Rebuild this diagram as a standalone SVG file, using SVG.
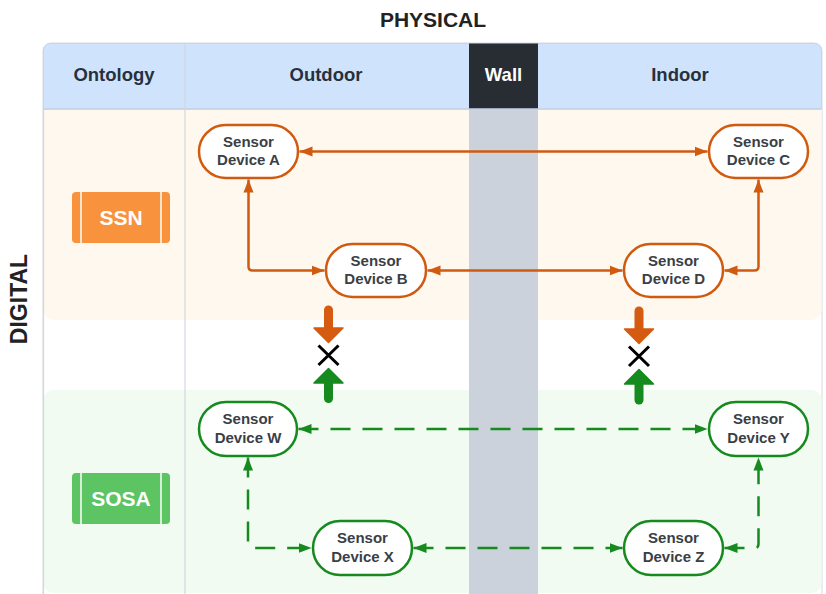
<svg xmlns="http://www.w3.org/2000/svg" width="826" height="594" viewBox="0 0 826 594">
<style>
.hdr{font-family:"Liberation Sans",Arial,sans-serif;font-weight:bold;font-size:18.5px;fill:#27303d;text-anchor:middle}
.ttl{font-family:"Liberation Sans",Arial,sans-serif;font-weight:bold;font-size:21px;fill:#222;text-anchor:middle}
.nt{font-family:"Liberation Sans",Arial,sans-serif;font-weight:bold;font-size:15px;fill:#3a3f47;text-anchor:middle}
.onto{font-family:"Liberation Sans",Arial,sans-serif;font-weight:bold;font-size:21px;fill:#fff;text-anchor:middle}
.on{fill:#fff;stroke:#d05a10;stroke-width:2.5}
.gn{fill:#fff;stroke:#168a1e;stroke-width:2.5}
.oc{fill:none;stroke:#d05a10;stroke-width:2.5;marker-start:url(#ao);marker-end:url(#ao)}
.gc{fill:none;stroke:#168a1e;stroke-width:2.5;stroke-dasharray:20 12;marker-start:url(#ag);marker-end:url(#ag)}
</style>
<defs>
<marker id="ao" markerUnits="userSpaceOnUse" markerWidth="14" markerHeight="12" refX="13" refY="5" orient="auto-start-reverse" viewBox="0 0 14 10">
<path d="M0,0 L13,5 L0,10 z" fill="#d05a10"/>
</marker>
<marker id="ag" markerUnits="userSpaceOnUse" markerWidth="14" markerHeight="12" refX="13" refY="5" orient="auto-start-reverse" viewBox="0 0 14 10">
<path d="M0,0 L13,5 L0,10 z" fill="#168a1e"/>
</marker>
</defs>
<rect width="826" height="594" fill="#fff"/>
<g id="table">
<rect x="43" y="43" width="779" height="560" rx="8" fill="#fff" stroke="#d5dae1" stroke-width="1"/>
<rect x="43.5" y="109" width="778" height="211" rx="10" fill="#fef8ee"/>
<rect x="43.5" y="109" width="778" height="20" fill="#fef8ee"/>
<rect x="43.5" y="390" width="778" height="203" rx="10" fill="#f1fbf1"/>
<rect x="469" y="109" width="69" height="485" fill="#cbd2db"/>
<path d="M43.5,109 V51 Q43.5,43.5 51,43.5 H814 Q821.5,43.5 821.5,51 V109 Z" fill="#cfe4fc" stroke="#c8d6e8" stroke-width="1"/>
<rect x="469" y="43.5" width="69" height="65.5" fill="#282c33"/>
<line x1="43.5" y1="109" x2="821.5" y2="109" stroke="#c3d3e6" stroke-width="1.5"/>
<line x1="185" y1="43.5" x2="185" y2="594" stroke="#d3d8df" stroke-width="1.2"/>
<line x1="43.5" y1="109" x2="43.5" y2="594" stroke="#d3d8df" stroke-width="1.2"/>
<text class="hdr" x="114" y="81">Ontology</text>
<text class="hdr" x="326" y="81">Outdoor</text>
<text class="hdr" x="503.5" y="81" style="fill:#fff">Wall</text>
<text class="hdr" x="680" y="81">Indoor</text>
</g>
<g id="titles">
<text class="ttl" x="433" y="27">PHYSICAL</text>
<text class="ttl" x="0" y="0" transform="translate(27,299) rotate(-90)" style="font-size:23px">DIGITAL</text>
</g>
<g id="ssn">
<rect x="72" y="192" width="98" height="51" rx="4" fill="#f8923c"/>
<line x1="81" y1="192" x2="81" y2="243" stroke="#fff" stroke-width="1.5"/>
<line x1="161" y1="192" x2="161" y2="243" stroke="#fff" stroke-width="1.5"/>
<text class="onto" x="121" y="225">SSN</text>
</g>
<g id="sosa">
<rect x="72" y="473" width="98" height="51" rx="4" fill="#5dc463"/>
<line x1="81" y1="473" x2="81" y2="524" stroke="#fff" stroke-width="1.5"/>
<line x1="161" y1="473" x2="161" y2="524" stroke="#fff" stroke-width="1.5"/>
<text class="onto" x="121" y="506">SOSA</text>
</g>
<g id="connectors">
<path class="oc" d="M299.5,151.5 H707.5"/>
<path class="oc" d="M248.5,179.5 V266.5 Q248.5,270.5 252.5,270.5 H324.5"/>
<path class="oc" d="M427.5,270.5 H622.5"/>
<path class="oc" d="M724.5,270.5 H754.5 Q758.5,270.5 758.5,266.5 V179.5"/>
<path class="gc" d="M298.5,429 H707.5"/>
<path class="gc" d="M248,457.5 V544 Q248,548 252,548 H311.5"/>
<path class="gc" d="M413.5,548 H622.5"/>
<path class="gc" d="M724.5,548 H754.5 Q758.5,548 758.5,544 V457.5"/>
</g>
<g id="blocked-left">
<line x1="328.5" y1="310" x2="328.5" y2="330" stroke="#d45b10" stroke-width="9" stroke-linecap="round"/>
<polygon points="314,328 343,328 328.5,342.5" fill="#d45b10" stroke="#d45b10" stroke-width="1.5" stroke-linejoin="round"/>
<path d="M318.5,345.5 L338.5,365 M338.5,345.5 L318.5,365" stroke="#000" stroke-width="3"/>
<polygon points="314,383 343,383 328.5,368.5" fill="#168a1e" stroke="#168a1e" stroke-width="1.5" stroke-linejoin="round"/>
<line x1="328.5" y1="381" x2="328.5" y2="398.5" stroke="#168a1e" stroke-width="9" stroke-linecap="round"/>
</g>
<g id="blocked-right">
<line x1="639" y1="311" x2="639" y2="331" stroke="#d45b10" stroke-width="9" stroke-linecap="round"/>
<polygon points="624.5,329 653.5,329 639,343.5" fill="#d45b10" stroke="#d45b10" stroke-width="1.5" stroke-linejoin="round"/>
<path d="M629,346.5 L649,366 M649,346.5 L629,366" stroke="#000" stroke-width="3"/>
<polygon points="624.5,384 653.5,384 639,369.5" fill="#168a1e" stroke="#168a1e" stroke-width="1.5" stroke-linejoin="round"/>
<line x1="639" y1="382" x2="639" y2="400" stroke="#168a1e" stroke-width="9" stroke-linecap="round"/>
</g>
<g id="nodeA"><rect class="on" x="199" y="125" width="99" height="53" rx="26.5"/><text class="nt" x="248.5" y="146.5">Sensor</text><text class="nt" x="248.5" y="165">Device A</text></g>
<g id="nodeC"><rect class="on" x="709" y="125" width="99" height="53" rx="26.5"/><text class="nt" x="758.5" y="146.5">Sensor</text><text class="nt" x="758.5" y="165">Device C</text></g>
<g id="nodeB"><rect class="on" x="326" y="244" width="100" height="53" rx="26.5"/><text class="nt" x="376" y="265.5">Sensor</text><text class="nt" x="376" y="284">Device B</text></g>
<g id="nodeD"><rect class="on" x="624" y="244" width="99" height="53" rx="26.5"/><text class="nt" x="673.5" y="265.5">Sensor</text><text class="nt" x="673.5" y="284">Device D</text></g>
<g id="nodeW"><rect class="gn" x="199" y="402" width="98" height="54" rx="27"/><text class="nt" x="248" y="424">Sensor</text><text class="nt" x="248" y="442.5">Device W</text></g>
<g id="nodeY"><rect class="gn" x="709" y="402" width="99" height="54" rx="27"/><text class="nt" x="758.5" y="424">Sensor</text><text class="nt" x="758.5" y="442.5">Device Y</text></g>
<g id="nodeX"><rect class="gn" x="313" y="521" width="99" height="54" rx="27"/><text class="nt" x="362.5" y="543">Sensor</text><text class="nt" x="362.5" y="561.5">Device X</text></g>
<g id="nodeZ"><rect class="gn" x="624" y="521" width="99" height="54" rx="27"/><text class="nt" x="673.5" y="543">Sensor</text><text class="nt" x="673.5" y="561.5">Device Z</text></g>
</svg>
